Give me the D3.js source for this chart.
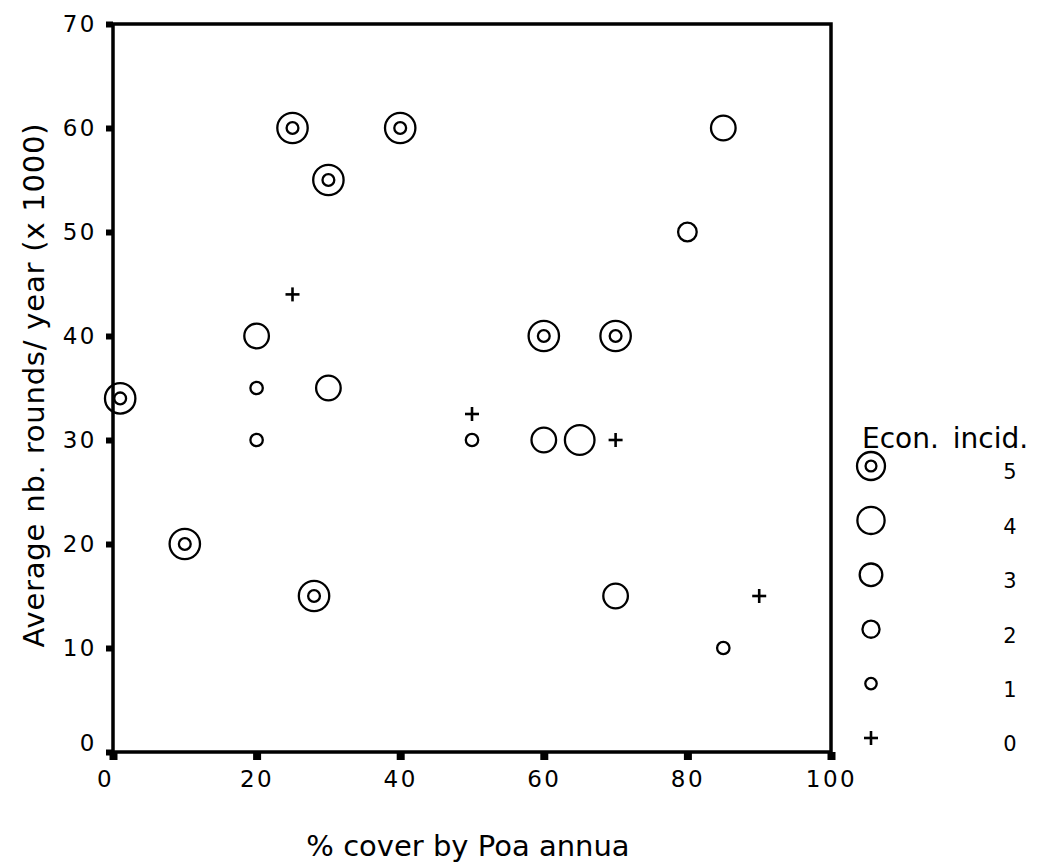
<!DOCTYPE html>
<html>
<head>
<meta charset="utf-8">
<script src="https://cdn.jsdelivr.net/npm/d3@7"></script>
<style>
  body { margin: 0; background: #fff; }
  text { font-family: "DejaVu Sans", sans-serif; fill: #000; }
</style>
</head>
<body>
<svg id="chart" width="1037" height="863"></svg>
<script>
// % cover by Poa annua, rounds per year (x1000), economic incidence class
const coverPct = [25, 40, 30, 85, 80, 25, 20, 1, 20, 30, 20, 50, 50, 60, 70, 60, 65, 70, 10, 28, 70, 85, 90];
const roundsK  = [60, 60, 55, 60, 50, 44, 40, 34, 35, 35, 30, 32.5, 30, 40, 40, 30, 30, 30, 20, 15, 15, 10, 15];
const incid    = [5, 5, 5, 3, 2, 0, 3, 5, 1, 3, 1, 0, 1, 5, 5, 3, 4, 0, 5, 5, 3, 1, 0];

const xTicks = [0, 20, 40, 60, 80, 100];
const yTicks = [0, 10, 20, 30, 40, 50, 60, 70];
const legendClasses = [5, 4, 3, 2, 1, 0];

const svg = d3.select("#chart");
const margin = { top: 24, right: 206, bottom: 111, left: 113 };
const W = 1037, H = 863;

const x = d3.scaleLinear().domain([0, 100]).range([margin.left, W - margin.right]);
const y = d3.scaleLinear().domain([0, 70]).range([H - margin.bottom, margin.top]);

// outer ring radius per class, inner ring only for class 5
const ringR = { 5: 15.2, 4: 14.8, 3: 12.3, 2: 9.3, 1: 6.2 };
const innerR = 5.9;

function drawMarker(g, cls, k) {
  g.attr("fill", "none").attr("stroke", "#000").attr("stroke-width", 2.3);
  if (cls === 0) {
    const a = 7;
    g.append("line").attr("x1", -a).attr("x2", a).attr("y1", 0).attr("y2", 0).attr("stroke-width", 2.6);
    g.append("line").attr("x1", 0).attr("x2", 0).attr("y1", -a).attr("y2", a).attr("stroke-width", 2.6);
    return;
  }
  g.append("circle").attr("r", ringR[cls] * k);
  if (cls === 5) g.append("circle").attr("r", innerR * k);
}

// axes
const yAxis = svg.append("g")
  .attr("transform", `translate(${x(0)},0)`)
  .call(d3.axisLeft(y).tickValues(yTicks).tickSize(7).tickPadding(9));
const xAxis = svg.append("g")
  .attr("transform", `translate(0,${y(0)})`)
  .call(d3.axisBottom(x).tickValues(xTicks).tickSize(8).tickPadding(11));

[yAxis, xAxis].forEach(ax => {
  ax.select(".domain").remove();
  ax.selectAll(".tick line").attr("stroke", "#000");
  ax.selectAll(".tick text")
    .style("font-family", "DejaVu Sans")
    .attr("font-size", 23)
    .attr("letter-spacing", 2.5)
    .attr("fill", "#000");
});
yAxis.selectAll(".tick line").attr("stroke-width", 6);
xAxis.selectAll(".tick line").attr("stroke-width", 8);
// the zero labels sit a little off so they don't collide in the corner
yAxis.selectAll(".tick text").filter(d => d === 0).attr("dy", "-0.05em");
xAxis.selectAll(".tick text").filter(d => d === 0).attr("dx", -8);

// frame
svg.append("rect")
  .attr("x", x(0)).attr("y", y(70))
  .attr("width", x(100) - x(0)).attr("height", y(0) - y(70))
  .attr("fill", "none").attr("stroke", "#000").attr("stroke-width", 3.5);

// points
const pts = coverPct.map((c, i) => ({ c, r: roundsK[i], k: incid[i] }));
svg.append("g").selectAll("g")
  .data(pts)
  .enter()
  .append("g")
  .attr("transform", d => `translate(${x(d.c)},${y(d.r)})`)
  .each(function(d) { drawMarker(d3.select(this), d.k, 1); });

// axis titles
svg.append("text")
  .attr("transform", `translate(44,385) rotate(-90)`)
  .attr("text-anchor", "middle")
  .attr("font-size", 29)
  .attr("letter-spacing", 0.8)
  .text("Average nb. rounds/ year (x 1000)");

svg.append("text")
  .attr("x", 468)
  .attr("y", 856)
  .attr("text-anchor", "middle")
  .attr("font-size", 29)
  .text("% cover by Poa annua");

// legend
const ly = d3.scalePoint().domain(legendClasses).range([466, 738]);
const legend = svg.append("g");
legend.append("text")
  .attr("x", 862).attr("y", 448)
  .attr("font-size", 28)
  .attr("word-spacing", 5)
  .text("Econ. incid.");
legend.selectAll("g.sym")
  .data(legendClasses)
  .enter()
  .append("g")
  .attr("class", "sym")
  .attr("transform", d => `translate(871,${ly(d)})`)
  .each(function(d) { drawMarker(d3.select(this), d, 0.92); });
legend.selectAll("text.lab")
  .data(legendClasses)
  .enter()
  .append("text")
  .attr("class", "lab")
  .attr("x", 1010).attr("y", d => ly(d) + 6)
  .attr("dy", "0.35em")
  .attr("text-anchor", "middle")
  .attr("font-size", 21)
  .text(d => d);
</script>
</body>
</html>
